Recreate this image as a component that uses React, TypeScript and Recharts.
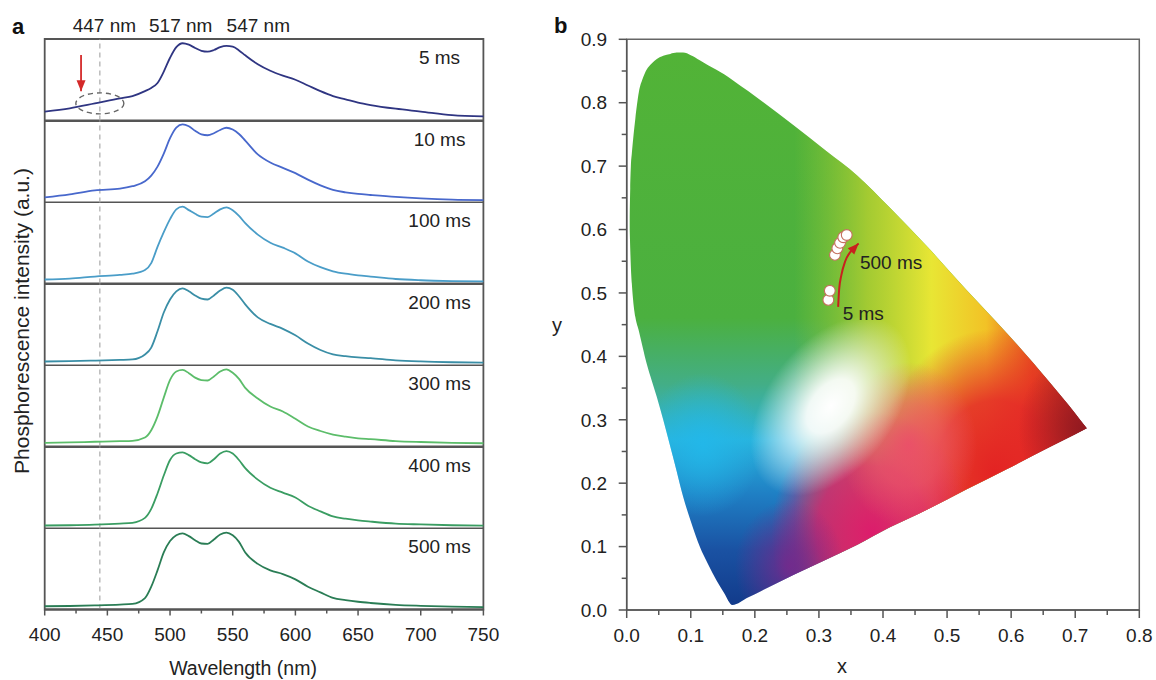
import React from 'react';
import {
  LineChart, Line, XAxis, YAxis, ReferenceLine, ReferenceDot, ReferenceArea,
  ComposedChart, Area, Scatter,
} from 'recharts';

const FONT = '"Liberation Sans", Arial, Helvetica, sans-serif';
const TXT = '#222';

// ---------------- Panel a: spectra ----------------
const wavelengths = [400, 420, 440, 460, 470, 480, 485, 490, 495, 500, 505, 510, 515, 520, 525, 530, 535, 540, 545, 550, 555, 560, 570, 580, 590, 600, 610, 620, 630, 640, 650, 660, 680, 700, 725, 750];
const spec5ms = [0.11, 0.15, 0.21, 0.272, 0.30, 0.36, 0.40, 0.46, 0.60, 0.77, 0.90, 0.948, 0.93, 0.89, 0.855, 0.845, 0.865, 0.90, 0.915, 0.905, 0.86, 0.80, 0.69, 0.61, 0.55, 0.50, 0.43, 0.36, 0.30, 0.26, 0.22, 0.19, 0.145, 0.11, 0.065, 0.05];
const spec10ms = [0.063, 0.10, 0.15, 0.17, 0.20, 0.26, 0.33, 0.44, 0.60, 0.79, 0.92, 0.958, 0.935, 0.88, 0.835, 0.825, 0.85, 0.89, 0.917, 0.895, 0.84, 0.76, 0.59, 0.49, 0.425, 0.36, 0.28, 0.21, 0.154, 0.125, 0.105, 0.092, 0.068, 0.05, 0.035, 0.03];
const spec100ms = [0.049, 0.06, 0.085, 0.105, 0.12, 0.165, 0.25, 0.45, 0.63, 0.79, 0.91, 0.943, 0.90, 0.855, 0.82, 0.815, 0.86, 0.91, 0.935, 0.90, 0.83, 0.74, 0.60, 0.50, 0.44, 0.37, 0.27, 0.20, 0.15, 0.12, 0.10, 0.085, 0.055, 0.04, 0.03, 0.025];
const spec200ms = [0.049, 0.053, 0.06, 0.068, 0.074, 0.135, 0.22, 0.42, 0.65, 0.81, 0.91, 0.947, 0.91, 0.86, 0.82, 0.81, 0.86, 0.92, 0.955, 0.93, 0.85, 0.75, 0.59, 0.51, 0.45, 0.37, 0.27, 0.19, 0.136, 0.115, 0.10, 0.09, 0.064, 0.05, 0.04, 0.035];
const spec300ms = [0.045, 0.05, 0.058, 0.065, 0.07, 0.11, 0.20, 0.37, 0.60, 0.817, 0.92, 0.939, 0.90, 0.845, 0.815, 0.81, 0.86, 0.92, 0.947, 0.905, 0.83, 0.72, 0.59, 0.49, 0.43, 0.34, 0.245, 0.19, 0.146, 0.12, 0.10, 0.09, 0.067, 0.055, 0.045, 0.04];
const spec400ms = [0.037, 0.04, 0.047, 0.06, 0.07, 0.13, 0.24, 0.43, 0.65, 0.84, 0.92, 0.934, 0.90, 0.85, 0.81, 0.80, 0.85, 0.92, 0.95, 0.92, 0.84, 0.74, 0.60, 0.50, 0.44, 0.38, 0.28, 0.21, 0.148, 0.12, 0.10, 0.085, 0.06, 0.05, 0.04, 0.035];
const spec500ms = [0.04, 0.043, 0.05, 0.06, 0.068, 0.14, 0.28, 0.48, 0.70, 0.84, 0.91, 0.935, 0.90, 0.85, 0.81, 0.805, 0.86, 0.92, 0.943, 0.91, 0.83, 0.70, 0.56, 0.48, 0.435, 0.37, 0.28, 0.21, 0.142, 0.115, 0.095, 0.08, 0.057, 0.045, 0.035, 0.03];

const panelSeries = [spec5ms, spec10ms, spec100ms, spec200ms, spec300ms, spec400ms, spec500ms];
const panelNames = ['5 ms', '10 ms', '100 ms', '200 ms', '300 ms', '400 ms', '500 ms'];
const panelColors = ['#2f3582', '#4868cc', '#4a9dc8', '#3a8ea6', '#5cbd6a', '#3a9d62', '#2a7d55'];
const wlTicks = [400, 425, 450, 475, 500, 525, 550, 575, 600, 625, 650, 675, 700, 725, 750];
const peakLabels = ['447 nm', '517 nm', '547 nm'];
const peakLabelWl = [447.6, 508.5, 570.4];
const markerWl = 444;
const arrowA_w = [429, 429];
const arrowA_v = [0.805, 0.36];
const panelLabelWl = 715;
const panelLabelV = 0.78;

// ---------------- Panel b: CIE ----------------
const locusX = [0.0047, 0.0055, 0.0065, 0.008, 0.010, 0.0135, 0.019, 0.025, 0.031, 0.039, 0.047, 0.057, 0.068, 0.078, 0.088, 0.100, 0.114, 0.127, 0.140, 0.152, 0.165, 0.19, 0.21, 0.26, 0.31, 0.36, 0.41, 0.47, 0.53, 0.593, 0.661, 0.70, 0.718];
const locusLow = [0.60, 0.57, 0.541, 0.515, 0.489, 0.462, 0.44, 0.414, 0.389, 0.362, 0.336, 0.300, 0.258, 0.219, 0.179, 0.140, 0.100, 0.072, 0.047, 0.027, 0.008, 0.020, 0.030, 0.055, 0.079, 0.103, 0.130, 0.159, 0.190, 0.222, 0.2575, 0.277, 0.2865];
const locusHigh = [0.62, 0.665, 0.70, 0.72, 0.742, 0.775, 0.817, 0.838, 0.852, 0.862, 0.869, 0.874, 0.877, 0.879, 0.879, 0.875, 0.867, 0.859, 0.852, 0.845, 0.836, 0.818, 0.803, 0.765, 0.725, 0.685, 0.635, 0.572, 0.505, 0.437, 0.358, 0.31, 0.2865];
const cieX = [0.3147, 0.317, 0.325, 0.3287, 0.333, 0.338, 0.3434];
const cieY = [0.489, 0.5035, 0.560, 0.5704, 0.579, 0.5878, 0.5914];
const arrowX = [0.330, 0.3315, 0.335, 0.341, 0.350, 0.362];
const arrowY = [0.478, 0.505, 0.528, 0.550, 0.566, 0.578];
const annX = [0.364, 0.337];
const annY = [0.549, 0.468];
const annText = ['500 ms', '5 ms'];
const cieXTicks = [0, 0.05, 0.1, 0.15, 0.2, 0.25, 0.3, 0.35, 0.4, 0.45, 0.5, 0.55, 0.6, 0.65, 0.7, 0.75, 0.8];
const cieYTicks = [0, 0.05, 0.1, 0.15, 0.2, 0.25, 0.3, 0.35, 0.4, 0.45, 0.5, 0.55, 0.6, 0.65, 0.7, 0.75, 0.8, 0.85, 0.9];

// ---------------- layout ----------------
const PANEL_TOP = 39;
const PANEL_H = 81.5;
const A_W = 500;
const A_ML = 44.7;
const A_MR = 16.6;

const WlTick = (props: any) => {
  const { x, y, payload } = props;
  const v = payload.value;
  const major = v % 50 === 0;
  return (
    <g>
      <line x1={x} x2={x} y1={y} y2={y + (major ? 6 : 4)} stroke="#555" strokeWidth={1.5} />
      {major && (
        <text x={x} y={y + 25} dy="0.355em" textAnchor="middle" fontSize={19} fontFamily={FONT} fill={TXT}>{v}</text>
      )}
    </g>
  );
};

const CieXTick = (props: any) => {
  const { x, y, payload } = props;
  const v = payload.value;
  const major = Math.round(v * 100) % 10 === 0;
  return (
    <g>
      <line x1={x} x2={x} y1={y} y2={y + (major ? 8 : 5)} stroke="#555" strokeWidth={1.5} />
      {major && (
        <text x={x} y={y + 25} dy="0.355em" textAnchor="middle" fontSize={19} fontFamily={FONT} fill={TXT}>{v.toFixed(1)}</text>
      )}
    </g>
  );
};

const CieYTick = (props: any) => {
  const { x, y, payload } = props;
  const v = payload.value;
  const major = Math.round(v * 100) % 10 === 0;
  return (
    <g>
      <line x1={x} x2={x - (major ? 8 : 5)} y1={y} y2={y} stroke="#555" strokeWidth={1.5} />
      {major && (
        <text x={x - 19.5} y={y} dy="0.355em" textAnchor="end" fontSize={19} fontFamily={FONT} fill={TXT}>{v.toFixed(1)}</text>
      )}
    </g>
  );
};

function SpecPanel({ i }: { i: number }) {
  const first = i === 0;
  const last = i === panelSeries.length - 1;
  const mt = first ? PANEL_TOP : 0;
  const axisH = last ? 70 : 0;
  const height = mt + PANEL_H + axisH;
  const top = first ? 0 : PANEL_TOP + i * PANEL_H;
  const data = wavelengths.map((w, k) => ({ w, v: panelSeries[i][k] }));
  const arrowData = arrowA_w.map((w, k) => ({ w, v: arrowA_v[k] }));
  return (
    <div style={{ position: 'absolute', left: 0, top }}>
      <LineChart width={A_W} height={height} data={data} margin={{ top: mt, right: A_MR, left: A_ML, bottom: 0 }}>
        <XAxis
          type="number"
          dataKey="w"
          domain={[400, 750]}
          ticks={wlTicks}
          interval={0}
          hide={!last}
          height={axisH}
          tickSize={0}
          tickMargin={0}
          tickLine={false}
          axisLine={{ stroke: '#555', strokeWidth: 1.8 }}
          tick={<WlTick />}
        />
        <YAxis type="number" domain={[0, 1]} hide />
        <ReferenceArea x1={400} x2={750} y1={0} y2={1} fill="none" fillOpacity={0} stroke="#555" strokeWidth={1.8} />
        <ReferenceLine x={markerWl} stroke="#aaa" strokeDasharray="5 4" strokeWidth={1.2} />
        <Line type="monotone" dataKey="v" stroke={panelColors[i]} strokeWidth={1.8} dot={false} activeDot={false} isAnimationActive={false} />
        <ReferenceDot
          x={panelLabelWl}
          y={panelLabelV}
          r={0}
          shape={(p: any) => (
            <text x={p.cx} y={p.cy} dy="0.355em" textAnchor="middle" fontSize={19} fontFamily={FONT} fill={TXT}>{panelNames[i]}</text>
          )}
        />
        {first && peakLabels.map((t, k) => (
          <ReferenceDot
            key={t}
            x={peakLabelWl[k]}
            y={1}
            r={0}
            shape={(p: any) => (
              <text x={p.cx} y={p.cy - 7.3} textAnchor="middle" fontSize={19} fontFamily={FONT} fill={TXT}>{t}</text>
            )}
          />
        ))}
        {first && (
          <ReferenceDot
            x={markerWl}
            y={0.21}
            r={0}
            shape={(p: any) => (
              <ellipse cx={p.cx} cy={p.cy} rx={24} ry={10.5} fill="none" stroke="#666" strokeWidth={1.4} strokeDasharray="5 4" />
            )}
          />
        )}
        {first && (
          <Line
            data={arrowData}
            type="linear"
            dataKey="v"
            stroke="#d42a2a"
            strokeWidth={1.8}
            isAnimationActive={false}
            activeDot={false}
            dot={(p: any) =>
              p.index === arrowData.length - 1 ? (
                <polygon key="ah" points={`${p.cx},${p.cy} ${p.cx - 4.5},${p.cy - 11} ${p.cx + 4.5},${p.cy - 11}`} fill="#d42a2a" />
              ) : (
                <g key={`d${p.index}`} />
              )
            }
          />
        )}
      </LineChart>
    </div>
  );
}

function CiePanel() {
  const locus = locusX.map((x, k) => ({ x, range: [locusLow[k], locusHigh[k]] }));
  const pts = cieX.map((x, k) => ({ x, y: cieY[k] }));
  const arrow = arrowX.map((x, k) => ({ x, y: arrowY[k] }));
  const ann = annX.map((x, k) => ({ x, y: annY[k], text: annText[k] }));
  const layers = ['cieBase', 'cieWarm', 'cieRed', 'cieMagenta', 'ciePink', 'ciePurple', 'cieDark', 'cieCyan', 'cieWhite'];
  return (
    <div style={{ position: 'absolute', left: 540, top: 0 }}>
      <ComposedChart width={616} height={680} data={locus} margin={{ top: 39.3, right: 16.7, bottom: 10, left: 16.7 }}>
        <defs>
          <linearGradient id="cieBase" x1="0" y1="0" x2="0" y2="1">
            <stop offset="0" stopColor="#52b337" />
            <stop offset="0.48" stopColor="#4bb03f" />
            <stop offset="0.60" stopColor="#43ae86" />
            <stop offset="0.70" stopColor="#29b4dd" />
            <stop offset="0.80" stopColor="#1f7fc4" />
            <stop offset="0.90" stopColor="#1a52a3" />
            <stop offset="1" stopColor="#123b8b" />
          </linearGradient>
          <linearGradient id="cieWarm" x1="0" y1="0" x2="1" y2="0">
            <stop offset="0.36" stopColor="#9cc832" stopOpacity={0} />
            <stop offset="0.52" stopColor="#b2cf30" stopOpacity={0.85} />
            <stop offset="0.66" stopColor="#e8e634" stopOpacity={1} />
            <stop offset="0.78" stopColor="#f2c226" stopOpacity={1} />
            <stop offset="0.88" stopColor="#e8501e" stopOpacity={1} />
            <stop offset="1" stopColor="#a81c20" stopOpacity={1} />
          </linearGradient>
          <radialGradient id="cieRed" cx="0.80" cy="0.76" r="0.26">
            <stop offset="0" stopColor="#e32323" stopOpacity={1} />
            <stop offset="0.5" stopColor="#e42428" stopOpacity={0.85} />
            <stop offset="1" stopColor="#e42428" stopOpacity={0} />
          </radialGradient>
          <radialGradient id="cieMagenta" cx="0.53" cy="0.87" r="0.22">
            <stop offset="0" stopColor="#dc1c6c" stopOpacity={1} />
            <stop offset="0.55" stopColor="#dc1c6c" stopOpacity={0.8} />
            <stop offset="1" stopColor="#dc1c6c" stopOpacity={0} />
          </radialGradient>
          <radialGradient id="ciePink" cx="0.61" cy="0.71" r="0.15">
            <stop offset="0" stopColor="#ec4e6c" stopOpacity={0.9} />
            <stop offset="0.5" stopColor="#ec5a6c" stopOpacity={0.6} />
            <stop offset="1" stopColor="#ec5a6c" stopOpacity={0} />
          </radialGradient>
          <radialGradient id="ciePurple" cx="0.35" cy="0.93" r="0.12">
            <stop offset="0" stopColor="#76298c" stopOpacity={0.9} />
            <stop offset="1" stopColor="#76298c" stopOpacity={0} />
          </radialGradient>
          <radialGradient id="cieDark" cx="0.99" cy="0.68" r="0.14">
            <stop offset="0" stopColor="#931a20" stopOpacity={1} />
            <stop offset="1" stopColor="#931a20" stopOpacity={0} />
          </radialGradient>
          <radialGradient id="cieCyan" cx="0.16" cy="0.71" r="0.13">
            <stop offset="0" stopColor="#22b8ea" stopOpacity={0.9} />
            <stop offset="1" stopColor="#22b8ea" stopOpacity={0} />
          </radialGradient>
          <radialGradient
            id="cieWhite"
            cx="0.44"
            cy="0.64"
            r="0.15"
            gradientTransform="translate(0.44 0.64) rotate(-40) scale(1.35 0.85) translate(-0.44 -0.64)"
          >
            <stop offset="0" stopColor="#ffffff" stopOpacity={1} />
            <stop offset="0.3" stopColor="#ffffff" stopOpacity={0.92} />
            <stop offset="0.65" stopColor="#ffffff" stopOpacity={0.45} />
            <stop offset="1" stopColor="#ffffff" stopOpacity={0} />
          </radialGradient>
        </defs>
        <XAxis
          type="number"
          dataKey="x"
          domain={[0, 0.8]}
          ticks={cieXTicks}
          interval={0}
          height={60}
          tickSize={0}
          tickMargin={0}
          tickLine={false}
          axisLine={{ stroke: '#555', strokeWidth: 1.5 }}
          tick={<CieXTick />}
        />
        <YAxis
          type="number"
          domain={[0, 0.9]}
          ticks={cieYTicks}
          interval={0}
          width={70}
          tickSize={0}
          tickMargin={0}
          tickLine={false}
          axisLine={{ stroke: '#555', strokeWidth: 1.5 }}
          tick={<CieYTick />}
        />
        {layers.map((id) => (
          <Area
            key={id}
            type="monotone"
            dataKey="range"
            fill={`url(#${id})`}
            fillOpacity={1}
            stroke="none"
            dot={false}
            activeDot={false}
            isAnimationActive={false}
          />
        ))}
        <Line
          data={arrow}
          type="monotone"
          dataKey="y"
          stroke="#c8201e"
          strokeWidth={2}
          isAnimationActive={false}
          activeDot={false}
          dot={(p: any) =>
            p.index === arrow.length - 1 ? (
              <polygon key="ah" points="0,0 -11,-4.5 -11,4.5" fill="#c8201e" transform={`translate(${p.cx},${p.cy}) rotate(-46)`} />
            ) : (
              <g key={`d${p.index}`} />
            )
          }
        />
        <Scatter
          data={pts}
          dataKey="y"
          isAnimationActive={false}
          shape={(p: any) => <circle cx={p.cx} cy={p.cy} r={5.4} fill="#ffffff" stroke="#c4705e" strokeWidth={1.1} />}
        />
        <Scatter
          data={ann}
          dataKey="y"
          isAnimationActive={false}
          shape={(p: any) => (
            <text x={p.cx} y={p.cy} dy="0.355em" textAnchor="start" fontSize={19} fontFamily={FONT} fill={TXT}>{p.payload.text}</text>
          )}
        />
        <ReferenceArea x1={0} x2={0.8} y1={0} y2={0.9} fill="none" fillOpacity={0} stroke="#666" strokeWidth={1.5} />
      </ComposedChart>
    </div>
  );
}

export default function App() {
  return (
    <div style={{ position: 'absolute', left: 0, top: 0, width: 1156, height: 680, background: '#fff', overflow: 'hidden', fontFamily: FONT }}>
      {panelSeries.map((_, i) => (
        <SpecPanel key={i} i={i} />
      ))}
      <CiePanel />
      <svg width={1156} height={680} style={{ position: 'absolute', left: 0, top: 0, pointerEvents: 'none' }}>
        <text x={12} y={34} fontSize={22} fontWeight="bold" fontFamily={FONT} fill="#111">a</text>
        <text x={554} y={33} fontSize={22} fontWeight="bold" fontFamily={FONT} fill="#111">b</text>
        <text x={22} y={321} dy="0.355em" textAnchor="middle" fontSize={21} fontFamily={FONT} fill={TXT} transform="rotate(-90 22 321)">Phosphorescence intensity (a.u.)</text>
        <text x={243} y={668} dy="0.355em" textAnchor="middle" fontSize={19.5} fontFamily={FONT} fill={TXT}>Wavelength (nm)</text>
        <text x={842} y={666} dy="0.355em" textAnchor="middle" fontSize={20} fontFamily={FONT} fill={TXT}>x</text>
        <text x={557} y={325} dy="0.355em" textAnchor="middle" fontSize={20} fontFamily={FONT} fill={TXT}>y</text>
      </svg>
    </div>
  );
}
